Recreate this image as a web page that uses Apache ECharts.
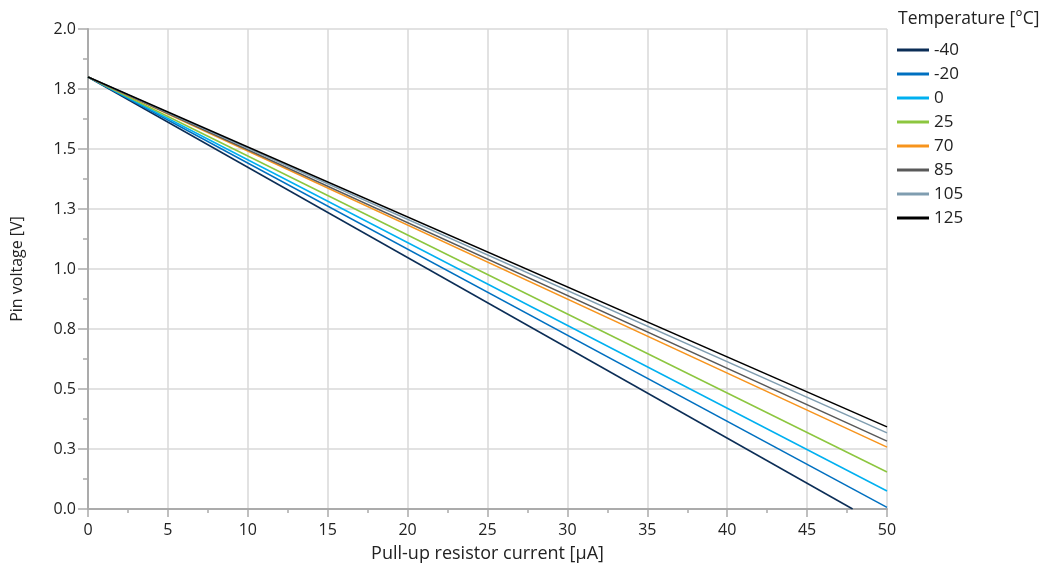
<!DOCTYPE html>
<html>
<head>
<meta charset="utf-8">
<script src="https://cdn.jsdelivr.net/npm/echarts@6/dist/echarts.min.js"></script>
<style>
html,body{margin:0;padding:0;background:#fff;}
#chart{width:1042px;height:571px;}
</style>
</head>
<body>
<div id="chart"></div>
<script>
// Data
const temperatures = ['-40', '-20', '0', '25', '70', '85', '105', '125'];
const colors = ['#0b2d56', '#0070c0', '#00b0f0', '#8cc63f', '#f7941d', '#595959', '#7f9db0', '#000000'];
const currentStart = [0, 0, 0, 0, 0, 0, 0, 0];          // µA
const voltageStart = [1.8, 1.8, 1.8, 1.8, 1.8, 1.8, 1.8, 1.8]; // V
const currentEnd = [47.85, 50, 50, 50, 50, 50, 50, 50];  // µA
const voltageEnd = [0.0, 0.007, 0.075, 0.154, 0.258, 0.283, 0.317, 0.342]; // V

const FONT = 'Open Sans';
const chart = echarts.init(document.getElementById('chart'), null, {renderer: 'canvas'});

const series = temperatures.map((t, i) => ({
  name: t,
  type: 'line',
  data: [[currentStart[i], voltageStart[i]], [currentEnd[i], voltageEnd[i]]],
  showSymbol: false,
  symbol: 'none',
  lineStyle: {color: colors[i], width: 1.5},
  itemStyle: {color: colors[i]},
  animation: false
}));

chart.setOption({
  animation: false,
  textStyle: {fontFamily: FONT},
  title: {
    text: 'Temperature [°C]',
    left: 898, top: 10,
    padding: 0,
    textStyle: {fontFamily: FONT, fontSize: 17.5, fontWeight: 'normal', color: '#222'}
  },
  legend: {
    orient: 'vertical',
    left: 897, top: 40,
    padding: 0,
    itemWidth: 32, itemHeight: 3,
    itemGap: 4,
    icon: 'rect',
    textStyle: {fontFamily: FONT, fontSize: 17, color: '#222', lineHeight: 20, padding: [0,0,0,0]},
    data: temperatures
  },
  grid: {left: 88, right: 155, top: 29, bottom: 62, containLabel: false, outerBoundsMode: 'none'},
  xAxis: {
    type: 'value',
    min: 0, max: 50, interval: 5,
    name: 'Pull-up resistor current [µA]',
    nameLocation: 'middle',
    nameGap: 36,
    nameTextStyle: {fontFamily: FONT, fontSize: 18, color: '#222'},
    axisLine: {show: true, lineStyle: {color: '#ababab', width: 2}},
    axisTick: {show: true, length: 8, lineStyle: {color: '#ababab', width: 1.5}},
    minorTick: {show: true, splitNumber: 2, length: 4, lineStyle: {color: '#ababab', width: 1.5}},
    axisLabel: {fontFamily: FONT, fontSize: 16, color: '#222', margin: 13},
    splitLine: {show: true, lineStyle: {color: '#d9d9d9', width: 1.5}}
  },
  yAxis: {
    type: 'value',
    min: 0, max: 2, interval: 0.25,
    name: 'Pin voltage [V]',
    nameLocation: 'middle',
    nameGap: 63,
    nameTextStyle: {fontFamily: FONT, fontSize: 16, color: '#222'},
    axisLine: {show: true, lineStyle: {color: '#ababab', width: 2}},
    axisTick: {show: true, length: 10, lineStyle: {color: '#ababab', width: 1.5}},
    minorTick: {show: true, splitNumber: 2, length: 5, lineStyle: {color: '#ababab', width: 1.5}},
    axisLabel: {fontFamily: FONT, fontSize: 16, color: '#222', margin: 12,
      formatter: v => v.toFixed(1)},
    splitLine: {show: true, lineStyle: {color: '#d9d9d9', width: 1.5}}
  },
  series: series
});
</script>
</body>
</html>
